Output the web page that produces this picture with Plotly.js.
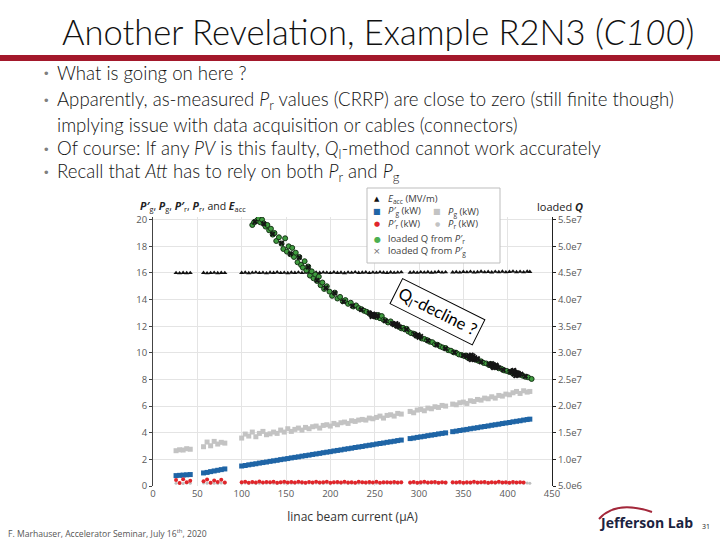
<!DOCTYPE html>
<html>
<head>
<meta charset="utf-8">
<script src="https://cdn.plot.ly/plotly-3.0.1.min.js"></script>
<style>
  html, body { margin: 0; padding: 0; background: #ffffff; }
  #chart { width: 720px; height: 540px; }
</style>
</head>
<body>
<div id="chart"></div>
<script>
// ---- measured data: linac beam current (uA) ----
const current = [26,30,34,38,42,
  57,61,65,69,73,77,81,
  100,104,108,112,116,120,124,128,132,136,140,144,148,152,156,160,164,168,172,176,180,184,188,192,196,200,204,208,212,216,220,224,228,232,236,240,244,248,252,256,260,264,268,272,276,280,
  290,294,298,302,306,310,314,318,322,326,330,
  338,342,346,350,354,358,362,366,370,374,378,382,386,390,394,398,402,406,410,414,418,422,425];

// accelerating gradient (MV/m)
const eacc = [16.00,15.98,16.01,15.99,16.00,
  16.01,15.98,16.00,16.02,15.99,16.01,16.00,
  16.01,16.03,15.99,16.02,16.04,16.00,16.02,15.98,16.03,16.01,16.05,16.00,16.02,15.99,16.03,16.01,16.04,16.00,16.02,16.05,15.99,16.03,16.01,16.04,16.02,16.00,16.05,16.01,16.03,15.99,16.04,16.02,16.06,16.01,16.03,16.05,16.00,16.04,16.02,16.06,16.03,16.01,16.05,16.02,16.04,16.06,
  16.03,16.05,16.02,16.06,16.04,16.07,16.03,16.05,16.08,16.04,16.06,
  16.05,16.07,16.04,16.08,16.06,16.09,16.05,16.07,16.10,16.06,16.08,16.05,16.09,16.07,16.10,16.06,16.08,16.11,16.07,16.09,16.06,16.10,16.08];

// P'g (kW)
const pgPrime = [0.78,0.80,0.82,0.84,0.86,
  0.98,1.02,1.08,1.13,1.18,1.23,1.28,
  1.50,1.54,1.59,1.63,1.67,1.72,1.76,1.80,1.85,1.89,1.93,1.98,2.02,2.06,2.11,2.15,2.19,2.24,2.28,2.32,2.37,2.41,2.45,2.50,2.54,2.58,2.63,2.67,2.71,2.76,2.80,2.84,2.89,2.93,2.97,3.02,3.06,3.10,3.15,3.19,3.23,3.28,3.32,3.36,3.41,3.45,
  3.56,3.60,3.65,3.69,3.73,3.78,3.82,3.86,3.91,3.95,3.99,
  4.08,4.12,4.17,4.21,4.25,4.30,4.34,4.38,4.43,4.47,4.51,4.56,4.60,4.64,4.69,4.73,4.77,4.82,4.86,4.90,4.95,4.99,5.02];

// Pg (kW)
const pg = [2.65,2.72,2.70,2.80,2.76,
  2.95,3.30,3.02,3.35,3.15,3.28,3.22,
  3.60,3.90,3.75,4.05,3.70,3.95,4.10,3.85,3.92,4.05,3.95,4.20,4.05,4.30,4.10,4.25,4.35,4.20,4.40,4.30,4.45,4.50,4.35,4.55,4.60,4.50,4.70,4.60,4.75,4.80,4.70,4.90,4.85,4.95,5.00,4.95,5.10,5.05,5.15,5.25,5.10,5.30,5.35,5.25,5.45,5.40,
  5.60,5.50,5.70,5.75,5.65,5.85,5.80,5.95,5.90,6.05,6.00,
  6.15,6.10,6.25,6.30,6.20,6.40,6.35,6.50,6.45,6.60,6.55,6.70,6.60,6.80,6.75,6.90,6.85,7.00,7.10,6.95,7.15,7.05,7.10];

// P'r (kW)
const prPrime = [0.45,0.22,0.50,0.28,0.40,
  0.35,0.48,0.25,0.42,0.30,0.46,0.27,
  0.28,0.32,0.25,0.30,0.27,0.33,0.26,0.30,0.28,0.31,0.25,0.29,0.32,0.27,0.30,0.26,0.31,0.28,0.25,0.30,0.27,0.32,0.26,0.29,0.31,0.25,0.28,0.30,0.27,0.32,0.26,0.29,0.25,0.31,0.28,0.26,0.30,0.27,0.31,0.25,0.29,0.28,0.26,0.30,0.27,0.29,
  0.27,0.30,0.25,0.29,0.31,0.26,0.28,0.30,0.25,0.29,0.27,
  0.28,0.26,0.30,0.25,0.29,0.27,0.31,0.26,0.28,0.30,0.25,0.29,0.27,0.31,0.26,0.28,0.25,0.30,0.27,0.29,0.26,null,null];

// Pr (kW)
const pr = [0.20,0.22,0.19,0.23,0.21,
  0.22,0.20,0.23,0.21,0.19,0.22,0.20,
  0.21,0.23,0.20,0.22,0.19,0.21,0.23,0.20,0.22,0.21,0.19,0.22,0.20,0.23,0.21,0.20,0.22,0.19,0.21,0.23,0.20,0.22,0.21,0.19,0.23,0.20,0.22,0.21,0.20,0.22,0.19,0.21,0.23,0.20,0.22,0.21,0.19,0.22,0.20,0.23,0.21,0.20,0.22,0.19,0.21,0.23,
  0.20,0.22,0.21,0.19,0.23,0.20,0.22,0.21,0.20,0.22,0.19,
  0.21,0.23,0.20,0.22,0.19,0.21,0.23,0.20,0.22,0.21,0.19,0.22,0.20,0.23,0.21,0.20,0.22,0.19,0.21,0.23,0.20,0.22,0.21];

// loaded Q from P'r (values in units of 1e7)
const qCurrent = [112,114,117,119,121,123,125,127,129,131,133,135,137,139,142,145,147,149,151,153,155,157,159,161,163,165,167,169,171,173,175,177,179,181,183,185,187,189,191,193,196,199,202,205,208,211,214,217,220,223,226,229,232,235,238,241,244,247,250,252,254,256,258,260,262,265,268,271,274,277,280,282,284,286,288,291,294,297,300,303,306,309,312,315,318,321,324,327,330,333,336,339,342,345,348,351,353,355,357,359,361,364,367,370,373,376,379,381,383,385,387,390,393,396,399,402,404,406,408,410,412,414,417,420,423,427];
const qFromPr = [5.40,5.45,5.48,5.52,5.45,5.50,5.43,5.37,5.40,5.30,5.33,5.22,5.25,5.10,5.17,5.05,4.95,5.15,4.90,5.00,4.85,4.97,4.80,4.88,4.70,4.80,4.65,4.60,4.72,4.55,4.62,4.45,4.53,4.40,4.47,4.35,4.43,4.27,4.32,4.20,4.25,4.15,4.07,4.13,4.02,4.05,3.97,3.99,3.92,3.94,3.87,3.89,3.84,3.82,3.79,3.77,3.74,3.71,3.70,3.67,3.71,3.65,3.69,3.62,3.61,3.57,3.59,3.54,3.52,3.49,3.46,3.47,3.44,3.45,3.40,3.37,3.36,3.32,3.31,3.27,3.26,3.24,3.21,3.20,3.16,3.15,3.12,3.10,3.09,3.05,3.04,3.01,3.00,2.97,2.96,2.94,2.95,2.91,2.92,2.90,2.89,2.87,2.85,2.84,2.81,2.80,2.77,2.79,2.75,2.76,2.74,2.71,2.70,2.67,2.66,2.64,2.65,2.61,2.62,2.60,2.61,2.59,2.57,2.55,2.54,2.51];

// loaded Q from P'g (values in units of 1e7)
const qPgCurrent = [115,125,135,145,155,165,175,185,195,205,215,225,235,
  244,246,248,249,250,252,253,247,262,
  270,272,274,275,276,278,286,
  295,297,299,300,302,310,320,330,340,350,
  354,356,357,358,359,360,361,362,363,364,366,359,361,370,
  379,381,382,383,384,385,386,387,388,390,384,395,
  403,405,406,407,408,409,410,411,412,413,415,409,407,420];
const qFromPg = [5.46,5.42,5.23,5.06,4.86,4.79,4.61,4.36,4.22,4.12,3.96,3.88,3.81,
  3.75,3.71,3.73,3.69,3.72,3.68,3.70,3.68,3.60,
  3.55,3.53,3.55,3.50,3.53,3.49,3.44,
  3.35,3.32,3.34,3.29,3.31,3.23,3.15,3.08,3.01,2.95,
  2.93,2.95,2.89,2.92,2.96,2.90,2.94,2.88,2.91,2.87,2.89,2.87,2.91,2.83,
  2.79,2.77,2.80,2.74,2.78,2.76,2.73,2.77,2.74,2.72,2.72,2.68,
  2.65,2.63,2.66,2.60,2.64,2.61,2.63,2.58,2.62,2.59,2.60,2.57,2.67,2.56];

// axis ticks
const xTicks = [0,50,100,150,200,250,300,350,400,450];
const yTicks = [0,2,4,6,8,10,12,14,16,18,20];
const qTickVals = [5e6,1e7,1.5e7,2e7,2.5e7,3e7,3.5e7,4e7,4.5e7,5e7,5.5e7];
const qTickText = ['5.0e6','1.0e7','1.5e7','2.0e7','2.5e7','3.0e7','3.5e7','4.0e7','4.5e7','5.0e7','5.5e7'];

// legend labels
const legendPower = ['<i>E</i><sub>acc</sub> (MV/m)', '<i>P′</i><sub>g</sub> (kW)', '<i>P′</i><sub>r</sub> (kW)'];
const legendRaw = ['<i>P</i><sub>g</sub> (kW)', '<i>P</i><sub>r</sub> (kW)'];
const legendQ = ['loaded Q from <i>P′</i><sub>r</sub>', 'loaded Q from <i>P′</i><sub>g</sub>'];

// ---- page geometry (pixels) ----
const W = 720, H = 540;
const PL = 153, PR = 552, PT = 217, PB = 486;
const fx = p => (p - PL) / (PR - PL);
const fy = p => (PB - p) / (PB - PT);
const Y_MAX = 20.2;
const Q_MIN = 5e6, Q_PER_UNIT = 2.5e6;

const to1e7 = arr => arr.map(v => v * 1e7);

const traces = [
  { x: current, y: pg, type: 'scatter', mode: 'markers', name: 'Pg (kW)',
    marker: { symbol: 'square', size: 5, color: '#c3c3c3' } },
  { x: current, y: pr, type: 'scatter', mode: 'markers', name: 'Pr (kW)',
    marker: { symbol: 'circle', size: 3, color: '#bdbdbd' } },
  { x: current, y: pgPrime, type: 'scatter', mode: 'markers', name: "P'g (kW)",
    marker: { symbol: 'square', size: 5, color: '#1f65a6' } },
  { x: current, y: prPrime, type: 'scatter', mode: 'markers', name: "P'r (kW)",
    marker: { symbol: 'circle', size: 4, color: '#e0262b' } },
  { x: current, y: eacc, type: 'scatter', mode: 'markers', name: 'Eacc (MV/m)',
    marker: { symbol: 'triangle-up', size: 4.5, color: '#111111' } },
  { x: qCurrent, y: to1e7(qFromPr), yaxis: 'y2', type: 'scatter', mode: 'markers', name: "loaded Q from P'r",
    marker: { symbol: 'circle', size: 5, color: '#3f9c3f', line: { color: '#173417', width: 1 } } },
  { x: qPgCurrent, y: to1e7(qFromPg), yaxis: 'y2', type: 'scatter', mode: 'markers', name: "loaded Q from P'g",
    marker: { symbol: 'x', size: 5, color: '#151515' } }
];

const txt = (x, y, text, opts = {}) => Object.assign({
  xref: 'paper', yref: 'paper', x: fx(x), y: fy(y), text: text, showarrow: false,
  xanchor: 'left', yanchor: 'middle',
  font: { family: 'Lato, sans-serif', size: 16, color: '#1a1a1a' }
}, opts);

const bodyFont = { family: 'Lato, sans-serif', size: 18.6, color: '#111111', weight: 300 };
const bulletFont = { family: 'Arial, sans-serif', size: 13, color: '#7f7f7f' };
const LEG_SIZE = 9.5, LEG_LINE = LEG_SIZE * 1.3;
const legFont = { family: 'Open Sans, sans-serif', size: LEG_SIZE, color: '#404040' };
// legend row centres (pixels)
const legRows = [199, 199 + LEG_LINE, 199 + 2 * LEG_LINE, 239, 239 + LEG_LINE];

const annotations = [
  // slide heading
  txt(60, 31, 'Another Revelation, Example R2N3 (<i>C100</i>)',
      { font: { family: 'Lato, sans-serif', size: 34.5, color: '#111111', weight: 300 } }),
  // bullets
  txt(42, 73, '•', { font: bulletFont }),
  txt(55, 73, 'What is going on here ?', { font: bodyFont }),
  txt(42, 101, '•', { font: bulletFont }),
  txt(55, 101, 'Apparently, as-measured <i>P</i><sub>r</sub> values (CRRP) are close to zero (still finite though)', { font: bodyFont }),
  txt(55, 125, 'implying issue with data acquisition or cables (connectors)', { font: bodyFont }),
  txt(42, 149, '•', { font: bulletFont }),
  txt(55, 149, 'Of course: If any <i>PV</i> is this faulty, <i>Q</i><sub>l</sub>-method cannot work accurately', { font: bodyFont }),
  txt(42, 173, '•', { font: bulletFont }),
  txt(55, 173, 'Recall that <i>Att</i> has to rely on both <i>P</i><sub>r</sub> and <i>P</i><sub>g</sub>', { font: bodyFont }),

  // chart headings
  txt(138, 206, '<b><i>P′</i></b><sub>g</sub>, <b><i>P</i></b><sub>g</sub>, <b><i>P′</i></b><sub>r</sub>, <b><i>P</i></b><sub>r</sub>, and <b><i>E</i></b><sub>acc</sub>',
      { font: { family: 'Open Sans, sans-serif', size: 10.5, color: '#222222' } }),
  txt(535, 206, 'loaded <b><i>Q</i></b>',
      { font: { family: 'Open Sans, sans-serif', size: 11, color: '#222222' } }),

  // legend symbols
  txt(377, legRows[0], '▲', { xanchor: 'center', font: { family: 'DejaVu Sans', size: 7, color: '#111111' } }),
  txt(377, legRows[1], '■', { xanchor: 'center', font: { family: 'DejaVu Sans', size: 8, color: '#1f65a6' } }),
  txt(437, legRows[1], '■', { xanchor: 'center', font: { family: 'DejaVu Sans', size: 8, color: '#c3c3c3' } }),
  txt(377, legRows[2], '●', { xanchor: 'center', font: { family: 'DejaVu Sans', size: 7, color: '#e0262b' } }),
  txt(437, legRows[2], '●', { xanchor: 'center', font: { family: 'DejaVu Sans', size: 6, color: '#c3c3c3' } }),
  txt(377, legRows[3], '●', { xanchor: 'center', font: { family: 'DejaVu Sans', size: 8, color: '#4caf50' } }),
  txt(377, legRows[4], '×', { xanchor: 'center', font: { family: 'DejaVu Sans', size: 9, color: '#707070' } }),
  // legend labels
  txt(386, legRows[1], legendPower.join('<br>'), { font: legFont, align: 'left' }),
  txt(446, (legRows[1] + legRows[2]) / 2, legendRaw.join('<br>'), { font: legFont, align: 'left' }),
  txt(386, (legRows[3] + legRows[4]) / 2, legendQ.join('<br>'), { font: legFont, align: 'left' }),

  // callout on the Q trend
  { xref: 'paper', yref: 'paper', x: fx(437), y: fy(311.5), xanchor: 'center', yanchor: 'middle',
    text: 'Q<sub>l</sub>-decline ?', showarrow: false, textangle: 26.6,
    font: { family: 'Lato, sans-serif', size: 16.5, color: '#000000' },
    bgcolor: '#ffffff', bordercolor: '#000000', borderwidth: 1, borderpad: 3 },

  // footer
  txt(6, 533, 'F. Marhauser, Accelerator Seminar, July 16<sup>th</sup>, 2020',
      { font: { family: 'Open Sans, sans-serif', size: 8.6, color: '#555555' } }),
  txt(597, 522, 'Jefferson Lab',
      { font: { family: 'Open Sans, sans-serif', size: 14, color: '#1c2340', weight: 700 } }),
  txt(700, 526, '31', { font: { family: 'Open Sans, sans-serif', size: 7, color: '#222222' } })
];

const shapes = [
  // heading rule
  { type: 'rect', xref: 'paper', yref: 'paper', x0: fx(0), x1: fx(720), y0: fy(55), y1: fy(61),
    fillcolor: '#a3182b', line: { width: 0 }, layer: 'above' },
  // legend frame
  { type: 'rect', xref: 'paper', yref: 'paper', x0: fx(367), x1: fx(500), y0: fy(188), y1: fy(263),
    fillcolor: '#ffffff', line: { color: '#bdbdbd', width: 1 }, layer: 'above' },
  // logo swoosh
  { type: 'path', xref: 'paper', yref: 'paper',
    path: `M ${fx(599)},${fy(519)} Q ${fx(616)},${fy(500)} ${fx(652)},${fy(512)}`,
    line: { color: '#a3273a', width: 2 }, layer: 'above' }
];

const layout = {
  width: W, height: H, autosize: false,
  margin: { l: PL, r: W - PR, t: PT, b: H - PB, pad: 0 },
  paper_bgcolor: '#ffffff', plot_bgcolor: '#ffffff',
  showlegend: false,
  font: { family: 'Open Sans, sans-serif', size: 10, color: '#595959' },
  xaxis: {
    range: [0, 450], tickvals: xTicks, showgrid: true, gridcolor: '#e4e4e4', gridwidth: 1,
    zeroline: false, showline: false, ticks: '', automargin: false,
    tickfont: { size: 9.5, color: '#595959' },
    title: { text: 'linac beam current (μA)', standoff: 14,
             font: { family: 'Open Sans, sans-serif', size: 12, color: '#333333' } }
  },
  yaxis: {
    range: [0, Y_MAX], tickvals: yTicks, showgrid: true, gridcolor: '#e4e4e4', gridwidth: 1,
    zeroline: false, showline: true, linecolor: '#444444', linewidth: 1,
    ticks: 'outside', ticklen: 3, tickcolor: '#444444', automargin: false,
    tickfont: { size: 9.5, color: '#595959' }
  },
  yaxis2: {
    overlaying: 'y', side: 'right', range: [Q_MIN, Q_MIN + Y_MAX * Q_PER_UNIT],
    tickvals: qTickVals, ticktext: qTickText, showgrid: false, zeroline: false,
    showline: true, linecolor: '#222222', linewidth: 1, ticks: 'outside', ticklen: 3,
    tickcolor: '#222222', automargin: false,
    tickfont: { size: 9.5, color: '#595959' }
  },
  annotations: annotations,
  shapes: shapes
};

Plotly.newPlot('chart', traces, layout, { displayModeBar: false, staticPlot: true });
</script>
</body>
</html>
